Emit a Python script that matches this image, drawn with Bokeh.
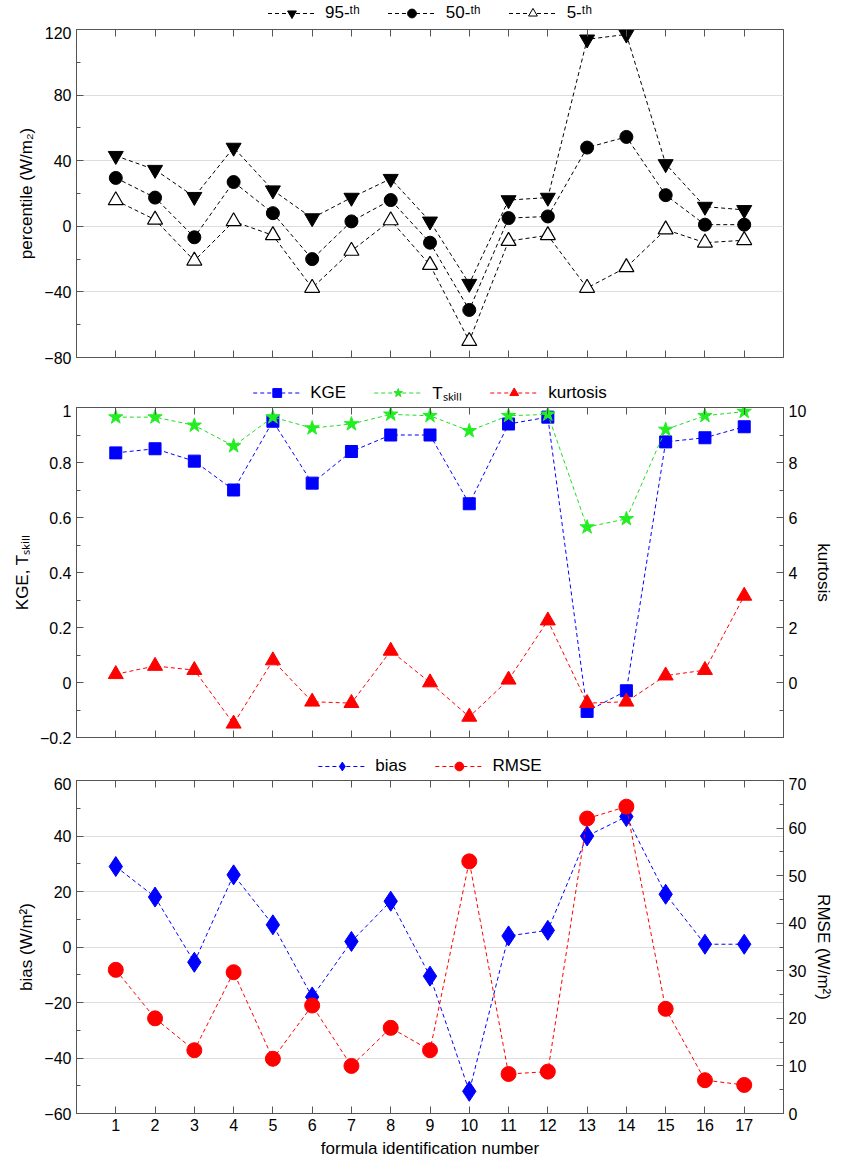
from bokeh.plotting import figure
from bokeh.models import Range1d, LinearAxis, Legend, LegendItem, FixedTicker
from bokeh.layouts import column
from bokeh.embed import file_html
from bokeh.resources import INLINE

x = list(range(1, 18))
p95 = [43, 34.5, 18, 48, 22, 5, 17.5, 29, 3, -35, 16, 17.5, 114, 117, 38, 12, 10]
p50 = [29.5, 17.5, -6.7, 27, 8, -20, 3, 16, -10, -51, 5, 6, 48, 54.5, 19, 1, 1]
p5 = [15.8, 4, -21, 3, -5.5, -37.6, -15, 3.6, -23.6, -70, -9, -5.5, -37.6, -25, -2, -10, -8.5]
kge = [0.835, 0.85, 0.805, 0.70, 0.95, 0.725, 0.84, 0.90, 0.90, 0.65, 0.94, 0.965, -0.105, -0.03, 0.875, 0.89, 0.93]
tskill = [0.965, 0.965, 0.935, 0.86, 0.965, 0.925, 0.94, 0.975, 0.97, 0.915, 0.97, 0.975, 0.565, 0.595, 0.92, 0.97, 0.985]
kurt = [0.3, 0.6, 0.45, -1.5, 0.8, -0.7, -0.75, 1.15, 0.0, -1.25, 0.1, 2.25, -0.75, -0.7, 0.25, 0.45, 3.15]
bias = [29, 18, -5.5, 26, 8, -18, 2, 16.5, -10.5, -52, 4, 6, 40, 47, 19, 1, 1]
rmse = [30.2, 20, 13.3, 29.7, 11.5, 22.7, 10, 18, 13.3, 53, 8.3, 8.8, 62, 64.5, 22, 7, 6]

FONT = "Liberation Sans"
W = 836
BL, BR = 76, 50
DASH = "4 3"


def style_axis(ax, labels=True):
    ax.major_label_text_font = FONT
    ax.major_label_text_font_size = "16px"
    ax.major_label_text_color = "black"
    if not labels:
        ax.major_label_overrides = {i: "" for i in x}
    ax.axis_label_text_font = FONT
    ax.axis_label_text_font_size = "17px"
    ax.axis_label_text_font_style = "normal"
    ax.axis_label_text_color = "black"
    ax.major_tick_in = 7
    ax.major_tick_out = 0
    ax.minor_tick_in = 4
    ax.minor_tick_out = 0
    ax.axis_line_color = "#555555"
    ax.major_tick_line_color = "#555555"
    ax.minor_tick_line_color = "#555555"


def make_fig(h, yr, top, bottom, xlabels, ticks):
    p = figure(width=W, height=h, x_range=Range1d(0, 18), y_range=Range1d(*yr),
               output_backend="svg", toolbar_location=None,
               min_border_left=BL, min_border_right=BR,
               min_border_top=top, min_border_bottom=bottom)
    p.xaxis.ticker = FixedTicker(ticks=x)
    p.yaxis.ticker = FixedTicker(ticks=ticks[0], minor_ticks=ticks[1])
    style_axis(p.xaxis[0], xlabels)
    style_axis(p.yaxis[0])
    p.xaxis.minor_tick_line_color = None
    top_ax = LinearAxis(ticker=FixedTicker(ticks=x))
    style_axis(top_ax, False)
    top_ax.minor_tick_line_color = None
    p.add_layout(top_ax, "above")
    p.xgrid.grid_line_color = None
    p.ygrid.grid_line_color = "#dddddd"
    p.outline_line_color = "#555555"
    return p


def legend_fig(h, specs):
    # the series are drawn far outside this strip's ranges: only the legend shows
    f = figure(width=W, height=h, x_range=Range1d(1000, 1001), y_range=Range1d(1000, 1001),
               output_backend="svg", toolbar_location=None,
               min_border_left=BL, min_border_right=BR, min_border_top=0, min_border_bottom=0)
    f.axis.visible = False
    f.grid.visible = False
    f.outline_line_color = None
    items = []
    for label, ys, color, marker, size, fill in specs:
        ln = f.line(x, ys, line_dash=DASH, color=color)
        sc = f.scatter(x, ys, marker=marker, size=size, line_color=color, fill_color=fill)
        items.append(LegendItem(label=label, renderers=[ln, sc]))
    lg = Legend(items=items, orientation="horizontal", location="center",
                label_text_font=FONT, label_text_font_size="17px",
                label_text_color="black",
                border_line_color=None, background_fill_alpha=0,
                glyph_width=48, glyph_height=22, spacing=28, padding=0, margin=0,
                label_standoff=10)
    f.add_layout(lg, "center")
    return f


leg1 = legend_fig(26, [("95-\u1d57\u02b0", p95, "black", "inverted_triangle", 15, "black"),
                       ("50-\u1d57\u02b0", p50, "black", "circle", 13, "black"),
                       ("5-\u1d57\u02b0", p5, "black", "triangle", 15, "white")])

p1 = make_fig(354, (-80, 120), 3, 23, False,
              ([-80, -40, 0, 40, 80, 120], [v for v in range(-80, 121, 20)]))
p1.yaxis.axis_label = "percentile (W/m\u2082)"
p1.line(x, p95, line_dash=DASH, color="black", line_width=1)
p1.scatter(x, p95, marker="inverted_triangle", size=15, color="black")
p1.line(x, p50, line_dash=DASH, color="black", line_width=1)
p1.scatter(x, p50, marker="circle", size=13, color="black")
p1.line(x, p5, line_dash=DASH, color="black", line_width=1)
p1.scatter(x, p5, marker="triangle", size=15, fill_color="white", line_color="black", line_width=1.2)

leg2 = legend_fig(24, [("KGE", kge, "blue", "square", 12, "blue"),
                       ("T\u209b\u2096\u1d62\u2097\u2097", tskill, "#22dd22", "star", 15, "#22ee22"),
                       ("kurtosis", kurt, "red", "triangle", 15, "red")])

p2 = make_fig(351, (-0.2, 1.0), 3, 18, False,
              ([-0.2, 0, 0.2, 0.4, 0.6, 0.8, 1.0], [round(-0.2 + 0.1 * i, 2) for i in range(13)]))
p2.ygrid.grid_line_color = None
p2.yaxis.axis_label = "KGE, T\u209b\u2096\u1d62\u2097\u2097"
p2.extra_y_ranges = {"k": Range1d(-2, 10)}
ra2 = LinearAxis(y_range_name="k", axis_label="kurtosis",
                 ticker=FixedTicker(ticks=[0, 2, 4, 6, 8, 10], minor_ticks=list(range(-2, 11))))
style_axis(ra2)
p2.add_layout(ra2, "right")
p2.line(x, kge, line_dash=DASH, color="blue")
p2.scatter(x, kge, marker="square", size=12, color="blue")
p2.line(x, tskill, line_dash=DASH, color="#22dd22")
p2.scatter(x, tskill, marker="star", size=15, color="#22ee22")
p2.line(x, kurt, line_dash=DASH, color="red", y_range_name="k")
p2.scatter(x, kurt, marker="triangle", size=15, color="red", y_range_name="k")

leg3 = legend_fig(22, [("bias", bias, "blue", "diamond", 20, "blue"),
                       ("RMSE", rmse, "red", "circle", 15, "red")])

p3 = make_fig(384, (-60, 60), 3, 48, True,
              ([-60, -40, -20, 0, 20, 40, 60], list(range(-60, 61, 10))))
p3.yaxis.axis_label = "bias (W/m\u00b2)"
p3.below[0].axis_label = "formula identification number"
p3.extra_y_ranges = {"r": Range1d(0, 70)}
ra3 = LinearAxis(y_range_name="r", axis_label="RMSE (W/m\u00b2)",
                 ticker=FixedTicker(ticks=list(range(0, 71, 10)), minor_ticks=list(range(0, 71, 5))))
style_axis(ra3)
p3.add_layout(ra3, "right")
p3.line(x, bias, line_dash=DASH, color="blue")
p3.scatter(x, bias, marker="diamond", size=20, color="blue")
p3.line(x, rmse, line_dash=DASH, color="red", y_range_name="r")
p3.scatter(x, rmse, marker="circle", size=15, color="red", y_range_name="r")

layout = column(leg1, p1, leg2, p2, leg3, p3, spacing=0)
open("out.html", "w").write(file_html(layout, INLINE))
